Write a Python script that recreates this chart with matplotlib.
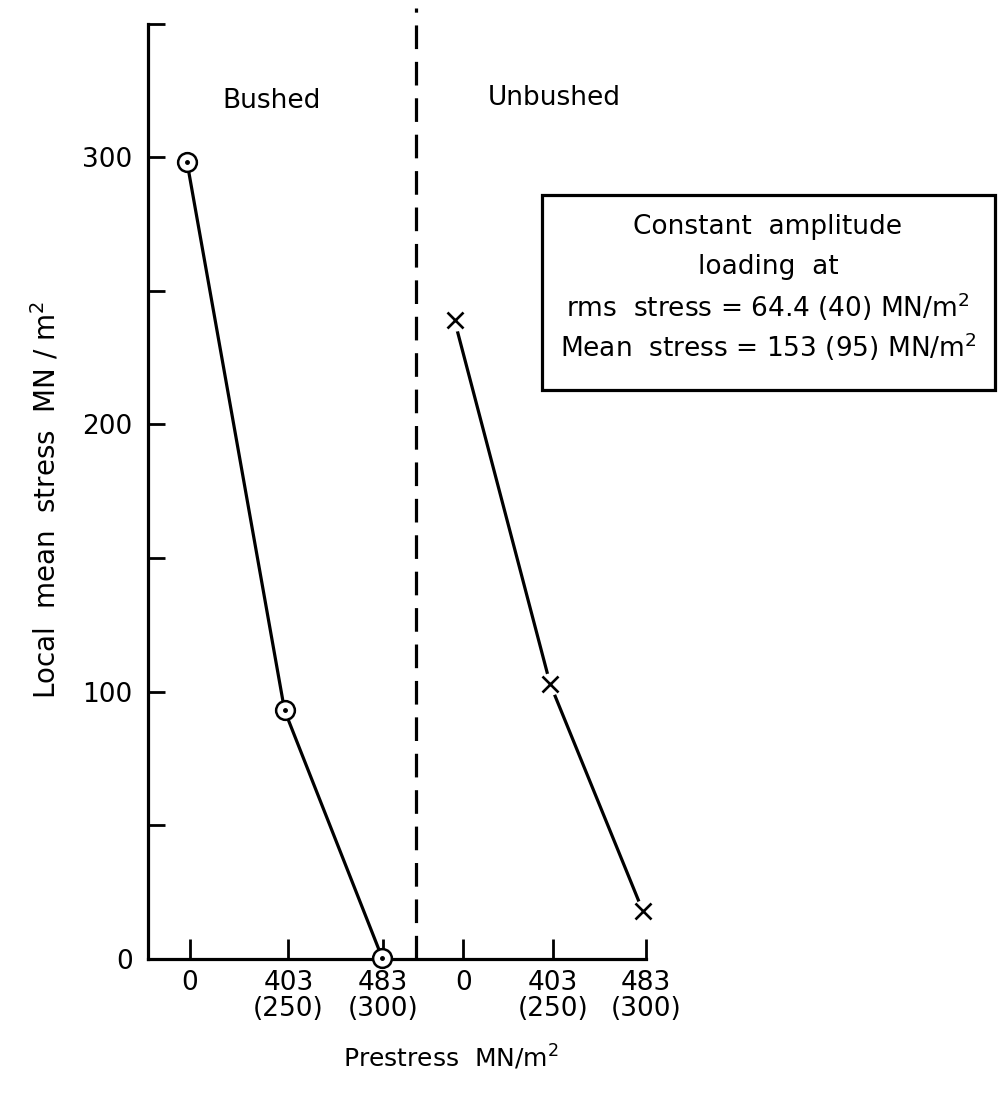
import matplotlib
matplotlib.use("Agg")
import matplotlib.pyplot as plt
from matplotlib.patches import Rectangle

plt.rcParams['font.family'] = ['DejaVu Sans']

# tick slots along the prestress axis (two groups side by side)
tick_pos = [0, 1.02, 2.0, 2.83, 3.76, 4.72]
tick_labels = ['0', '403\n(250)', '483\n(300)', '0', '403\n(250)', '483\n(300)']
divider_x = 2.34

# bushed specimens (circles)
bushed_x = [-0.03, 0.98, 1.99]
bushed_y = [298, 93, 0.5]

# unbushed specimens (crosses)
unbushed_x = [2.74, 3.73, 4.69]
unbushed_y = [239, 103, 18]

box_lines = ['Constant  amplitude',
             'loading  at',
             'rms  stress = 64.4 (40) MN/m$^2$',
             'Mean  stress = 153 (95) MN/m$^2$']

fig = plt.figure(figsize=(9.98, 10.97), dpi=100)
ax = fig.add_axes([0.1483, 0.1258, 0.8517, 0.8669])

lw = 2.3
ax.plot(bushed_x, bushed_y, color='black', lw=lw, zorder=3, clip_on=False)
ax.plot(bushed_x, bushed_y, ls='none', marker='o', ms=13.5, mfc='white',
        mec='black', mew=1.8, zorder=4, clip_on=False)
ax.plot(bushed_x, bushed_y, ls='none', marker='o', ms=2.5, color='black',
        zorder=5, clip_on=False)

ax.plot(unbushed_x, unbushed_y, color='black', lw=lw, zorder=3)
ax.plot(unbushed_x, unbushed_y, ls='none', marker='o', ms=16, mfc='white',
        mec='none', zorder=4)
ax.plot(unbushed_x, unbushed_y, ls='none', marker='x', ms=11, color='black',
        mew=1.9, zorder=5)

ax.axvline(divider_x, ymin=0, ymax=1, color='black', lw=lw,
           dashes=(7.4, 4.0), zorder=2)

ax.set_xlim(-0.435, 8.37)
ax.set_ylim(0, 355.8)

ax.spines['top'].set_visible(False)
ax.spines['right'].set_visible(False)
ax.spines['left'].set_linewidth(lw)
ax.spines['bottom'].set_linewidth(lw)
ax.spines['left'].set_bounds(0, 350)
ax.spines['bottom'].set_bounds(-0.435, tick_pos[-1])

ax.set_yticks([0, 100, 200, 300])
ax.set_yticks([50, 150, 250, 350], minor=True)
ax.tick_params(axis='y', which='both', direction='in', length=12.5, width=2,
               pad=11, labelsize=19)
ax.set_xticks(tick_pos, tick_labels)
ax.tick_params(axis='x', direction='in', length=14.4, width=2, pad=8,
               labelsize=19)
for t in ax.get_xticklabels():
    t.set_multialignment('center')
    t.set_linespacing(1.0)

ax.set_xlabel('Prestress  MN/m$^2$', fontsize=18)
ax.xaxis.set_label_coords(0.356, -0.088)
ax.set_ylabel('Local  mean  stress  MN / m$^2$', fontsize=20)
ax.yaxis.set_label_coords(-0.102, 0.483)

ax.text(0.84, 321, 'Bushed', fontsize=19, ha='center', va='center')
ax.text(3.77, 322, 'Unbushed', fontsize=19, ha='center', va='center')

ax.add_patch(Rectangle((0.4635, 0.598), 0.533, 0.205, transform=ax.transAxes,
                       fill=False, lw=lw, ec='black', clip_on=False))
for i, line in enumerate(box_lines):
    ax.text(0.7294, 0.7697 - i * 0.0421, line, transform=ax.transAxes,
            fontsize=19, ha='center', va='center')

fig.savefig('out.png', dpi=100, facecolor='white')
